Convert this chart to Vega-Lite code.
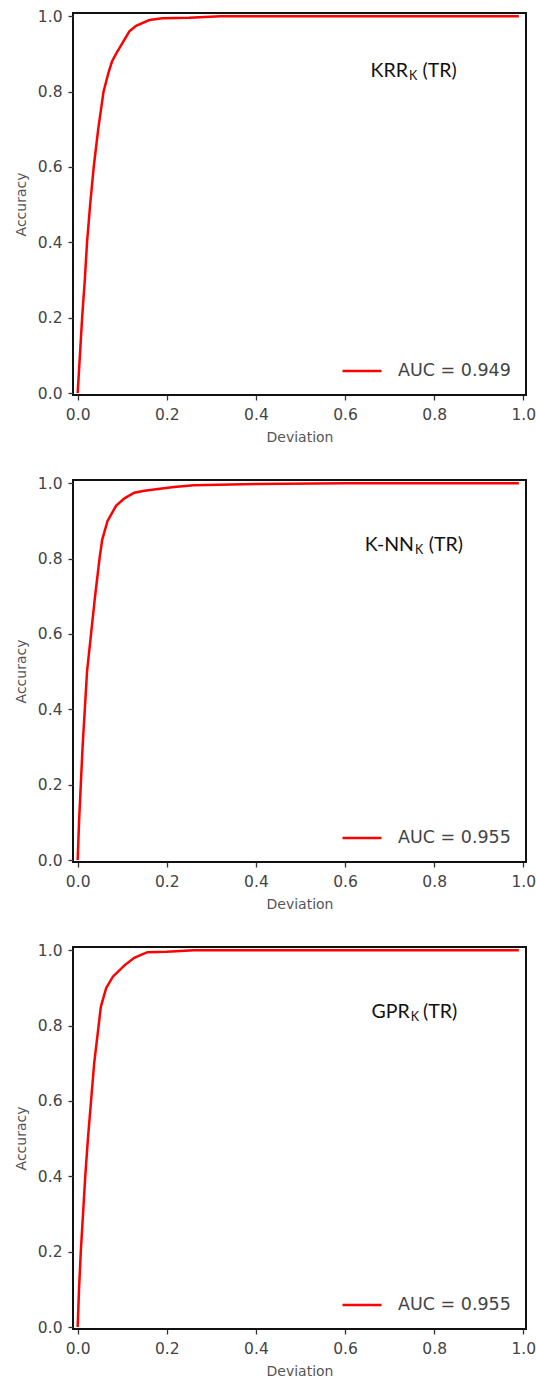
{
  "$schema": "https://vega.github.io/schema/vega-lite/v6.json",
  "background": "white",
  "padding": {"left": 13, "top": 8, "right": 5, "bottom": 5},
  "bounds": "flush",
  "spacing": 85,
  "datasets": {
    "curves": [
      {"panel": "KRR", "series": "AUC = 0.949", "dev": 0.0, "acc": 0.0},
      {"panel": "KRR", "series": "AUC = 0.949", "dev": 0.005, "acc": 0.1},
      {"panel": "KRR", "series": "AUC = 0.949", "dev": 0.010, "acc": 0.2},
      {"panel": "KRR", "series": "AUC = 0.949", "dev": 0.016, "acc": 0.3},
      {"panel": "KRR", "series": "AUC = 0.949", "dev": 0.021, "acc": 0.4},
      {"panel": "KRR", "series": "AUC = 0.949", "dev": 0.028, "acc": 0.5},
      {"panel": "KRR", "series": "AUC = 0.949", "dev": 0.036, "acc": 0.6},
      {"panel": "KRR", "series": "AUC = 0.949", "dev": 0.046, "acc": 0.7},
      {"panel": "KRR", "series": "AUC = 0.949", "dev": 0.058, "acc": 0.8},
      {"panel": "KRR", "series": "AUC = 0.949", "dev": 0.069, "acc": 0.85},
      {"panel": "KRR", "series": "AUC = 0.949", "dev": 0.077, "acc": 0.88},
      {"panel": "KRR", "series": "AUC = 0.949", "dev": 0.086, "acc": 0.9},
      {"panel": "KRR", "series": "AUC = 0.949", "dev": 0.101, "acc": 0.93},
      {"panel": "KRR", "series": "AUC = 0.949", "dev": 0.116, "acc": 0.96},
      {"panel": "KRR", "series": "AUC = 0.949", "dev": 0.131, "acc": 0.975},
      {"panel": "KRR", "series": "AUC = 0.949", "dev": 0.161, "acc": 0.99},
      {"panel": "KRR", "series": "AUC = 0.949", "dev": 0.19, "acc": 0.995},
      {"panel": "KRR", "series": "AUC = 0.949", "dev": 0.25, "acc": 0.996},
      {"panel": "KRR", "series": "AUC = 0.949", "dev": 0.32, "acc": 1.0},
      {"panel": "KRR", "series": "AUC = 0.949", "dev": 0.5, "acc": 1.0},
      {"panel": "KRR", "series": "AUC = 0.949", "dev": 0.99, "acc": 1.0},
      {"panel": "KNN", "series": "AUC = 0.955", "dev": 0.0, "acc": 0.0},
      {"panel": "KNN", "series": "AUC = 0.955", "dev": 0.003, "acc": 0.1},
      {"panel": "KNN", "series": "AUC = 0.955", "dev": 0.007, "acc": 0.2},
      {"panel": "KNN", "series": "AUC = 0.955", "dev": 0.011, "acc": 0.3},
      {"panel": "KNN", "series": "AUC = 0.955", "dev": 0.016, "acc": 0.4},
      {"panel": "KNN", "series": "AUC = 0.955", "dev": 0.021, "acc": 0.5},
      {"panel": "KNN", "series": "AUC = 0.955", "dev": 0.030, "acc": 0.6},
      {"panel": "KNN", "series": "AUC = 0.955", "dev": 0.039, "acc": 0.7},
      {"panel": "KNN", "series": "AUC = 0.955", "dev": 0.049, "acc": 0.8},
      {"panel": "KNN", "series": "AUC = 0.955", "dev": 0.055, "acc": 0.85},
      {"panel": "KNN", "series": "AUC = 0.955", "dev": 0.067, "acc": 0.9},
      {"panel": "KNN", "series": "AUC = 0.955", "dev": 0.086, "acc": 0.94},
      {"panel": "KNN", "series": "AUC = 0.955", "dev": 0.105, "acc": 0.96},
      {"panel": "KNN", "series": "AUC = 0.955", "dev": 0.127, "acc": 0.975},
      {"panel": "KNN", "series": "AUC = 0.955", "dev": 0.15, "acc": 0.98},
      {"panel": "KNN", "series": "AUC = 0.955", "dev": 0.18, "acc": 0.985},
      {"panel": "KNN", "series": "AUC = 0.955", "dev": 0.216, "acc": 0.99},
      {"panel": "KNN", "series": "AUC = 0.955", "dev": 0.26, "acc": 0.995},
      {"panel": "KNN", "series": "AUC = 0.955", "dev": 0.4, "acc": 0.998},
      {"panel": "KNN", "series": "AUC = 0.955", "dev": 0.6, "acc": 1.0},
      {"panel": "KNN", "series": "AUC = 0.955", "dev": 0.99, "acc": 1.0},
      {"panel": "GPR", "series": "AUC = 0.955", "dev": 0.0, "acc": 0.0},
      {"panel": "GPR", "series": "AUC = 0.955", "dev": 0.003, "acc": 0.1},
      {"panel": "GPR", "series": "AUC = 0.955", "dev": 0.007, "acc": 0.2},
      {"panel": "GPR", "series": "AUC = 0.955", "dev": 0.012, "acc": 0.3},
      {"panel": "GPR", "series": "AUC = 0.955", "dev": 0.017, "acc": 0.4},
      {"panel": "GPR", "series": "AUC = 0.955", "dev": 0.023, "acc": 0.5},
      {"panel": "GPR", "series": "AUC = 0.955", "dev": 0.030, "acc": 0.6},
      {"panel": "GPR", "series": "AUC = 0.955", "dev": 0.037, "acc": 0.7},
      {"panel": "GPR", "series": "AUC = 0.955", "dev": 0.047, "acc": 0.8},
      {"panel": "GPR", "series": "AUC = 0.955", "dev": 0.052, "acc": 0.85},
      {"panel": "GPR", "series": "AUC = 0.955", "dev": 0.064, "acc": 0.9},
      {"panel": "GPR", "series": "AUC = 0.955", "dev": 0.079, "acc": 0.93},
      {"panel": "GPR", "series": "AUC = 0.955", "dev": 0.105, "acc": 0.96},
      {"panel": "GPR", "series": "AUC = 0.955", "dev": 0.127, "acc": 0.98},
      {"panel": "GPR", "series": "AUC = 0.955", "dev": 0.146, "acc": 0.99},
      {"panel": "GPR", "series": "AUC = 0.955", "dev": 0.157, "acc": 0.995},
      {"panel": "GPR", "series": "AUC = 0.955", "dev": 0.2, "acc": 0.996},
      {"panel": "GPR", "series": "AUC = 0.955", "dev": 0.26, "acc": 1.0},
      {"panel": "GPR", "series": "AUC = 0.955", "dev": 0.99, "acc": 1.0}
    ],
    "names": [
      {"panel": "KRR", "part": "main", "text": "KRR", "dev": 0.741, "acc": 0.838},
      {"panel": "KRR", "part": "sub", "text": "K", "dev": 0.741, "acc": 0.838},
      {"panel": "KRR", "part": "tail", "text": "(TR)", "dev": 0.774, "acc": 0.838},
      {"panel": "KNN", "part": "main", "text": "K-NN", "dev": 0.7547, "acc": 0.819},
      {"panel": "KNN", "part": "sub", "text": "K", "dev": 0.7547, "acc": 0.819},
      {"panel": "KNN", "part": "tail", "text": "(TR)", "dev": 0.788, "acc": 0.819},
      {"panel": "GPR", "part": "main", "text": "GPR", "dev": 0.745, "acc": 0.821},
      {"panel": "GPR", "part": "sub", "text": "K", "dev": 0.745, "acc": 0.821},
      {"panel": "GPR", "part": "tail", "text": "(TR)", "dev": 0.775, "acc": 0.821}
    ]
  },
  "vconcat": [
    {
      "width": 453, "height": 382,
      "layer": [
        {
          "data": {"name": "curves"},
          "transform": [{"filter": "datum.panel === 'KRR'"}],
          "mark": {"type": "line", "strokeWidth": 2.5},
          "encoding": {
            "x": {"field": "dev", "type": "quantitative", "scale": {"domain": [-0.0105, 1.006], "nice": false, "zero": false}, "axis": {"title": "Deviation", "values": [0, 0.2, 0.4, 0.6, 0.8, 1.0], "format": ".1f"}},
            "y": {"field": "acc", "type": "quantitative", "scale": {"domain": [-0.0053, 1.0088], "nice": false, "zero": false}, "axis": {"title": "Accuracy", "values": [0, 0.2, 0.4, 0.6, 0.8, 1.0], "format": ".1f"}},
            "color": {"field": "series", "type": "nominal", "scale": {"range": ["#ff0000"]}, "legend": {"title": null}}
          }
        },
        {
          "data": {"name": "names"},
          "transform": [{"filter": "datum.panel === 'KRR' && datum.part === 'main'"}],
          "mark": {"type": "text", "align": "right", "baseline": "alphabetic", "font": "Lato", "fontSize": 19.5, "color": "#111"},
          "encoding": {"x": {"field": "dev", "type": "quantitative"}, "y": {"field": "acc", "type": "quantitative"}, "text": {"field": "text"}}
        },
        {
          "data": {"name": "names"},
          "transform": [{"filter": "datum.panel === 'KRR' && datum.part === 'tail'"}],
          "mark": {"type": "text", "align": "left", "baseline": "alphabetic", "font": "Lato", "fontSize": 19.5, "color": "#111"},
          "encoding": {"x": {"field": "dev", "type": "quantitative"}, "y": {"field": "acc", "type": "quantitative"}, "text": {"field": "text"}}
        },
        {
          "data": {"name": "names"},
          "transform": [{"filter": "datum.panel === 'KRR' && datum.part === 'sub'"}],
          "mark": {"type": "text", "align": "left", "baseline": "alphabetic", "font": "Lato", "fontSize": 12.5, "dy": 3, "dx": 1, "color": "#111"},
          "encoding": {"x": {"field": "dev", "type": "quantitative"}, "y": {"field": "acc", "type": "quantitative"}, "text": {"field": "text"}}
        }
      ]
    },
    {
      "width": 453, "height": 382,
      "layer": [
        {
          "data": {"name": "curves"},
          "transform": [{"filter": "datum.panel === 'KNN'"}],
          "mark": {"type": "line", "strokeWidth": 2.5},
          "encoding": {
            "x": {"field": "dev", "type": "quantitative", "scale": {"domain": [-0.0105, 1.006], "nice": false, "zero": false}, "axis": {"title": "Deviation", "values": [0, 0.2, 0.4, 0.6, 0.8, 1.0], "format": ".1f"}},
            "y": {"field": "acc", "type": "quantitative", "scale": {"domain": [-0.0053, 1.0088], "nice": false, "zero": false}, "axis": {"title": "Accuracy", "values": [0, 0.2, 0.4, 0.6, 0.8, 1.0], "format": ".1f"}},
            "color": {"field": "series", "type": "nominal", "scale": {"range": ["#ff0000"]}, "legend": {"title": null}}
          }
        },
        {
          "data": {"name": "names"},
          "transform": [{"filter": "datum.panel === 'KNN' && datum.part === 'main'"}],
          "mark": {"type": "text", "align": "right", "baseline": "alphabetic", "font": "Lato", "fontSize": 19.5, "color": "#111"},
          "encoding": {"x": {"field": "dev", "type": "quantitative"}, "y": {"field": "acc", "type": "quantitative"}, "text": {"field": "text"}}
        },
        {
          "data": {"name": "names"},
          "transform": [{"filter": "datum.panel === 'KNN' && datum.part === 'tail'"}],
          "mark": {"type": "text", "align": "left", "baseline": "alphabetic", "font": "Lato", "fontSize": 19.5, "color": "#111"},
          "encoding": {"x": {"field": "dev", "type": "quantitative"}, "y": {"field": "acc", "type": "quantitative"}, "text": {"field": "text"}}
        },
        {
          "data": {"name": "names"},
          "transform": [{"filter": "datum.panel === 'KNN' && datum.part === 'sub'"}],
          "mark": {"type": "text", "align": "left", "baseline": "alphabetic", "font": "Lato", "fontSize": 12.5, "dy": 3, "dx": 1, "color": "#111"},
          "encoding": {"x": {"field": "dev", "type": "quantitative"}, "y": {"field": "acc", "type": "quantitative"}, "text": {"field": "text"}}
        }
      ]
    },
    {
      "width": 453, "height": 382,
      "layer": [
        {
          "data": {"name": "curves"},
          "transform": [{"filter": "datum.panel === 'GPR'"}],
          "mark": {"type": "line", "strokeWidth": 2.5},
          "encoding": {
            "x": {"field": "dev", "type": "quantitative", "scale": {"domain": [-0.0105, 1.006], "nice": false, "zero": false}, "axis": {"title": "Deviation", "values": [0, 0.2, 0.4, 0.6, 0.8, 1.0], "format": ".1f"}},
            "y": {"field": "acc", "type": "quantitative", "scale": {"domain": [-0.0053, 1.0088], "nice": false, "zero": false}, "axis": {"title": "Accuracy", "values": [0, 0.2, 0.4, 0.6, 0.8, 1.0], "format": ".1f"}},
            "color": {"field": "series", "type": "nominal", "scale": {"range": ["#ff0000"]}, "legend": {"title": null}}
          }
        },
        {
          "data": {"name": "names"},
          "transform": [{"filter": "datum.panel === 'GPR' && datum.part === 'main'"}],
          "mark": {"type": "text", "align": "right", "baseline": "alphabetic", "font": "Lato", "fontSize": 19.5, "color": "#111"},
          "encoding": {"x": {"field": "dev", "type": "quantitative"}, "y": {"field": "acc", "type": "quantitative"}, "text": {"field": "text"}}
        },
        {
          "data": {"name": "names"},
          "transform": [{"filter": "datum.panel === 'GPR' && datum.part === 'tail'"}],
          "mark": {"type": "text", "align": "left", "baseline": "alphabetic", "font": "Lato", "fontSize": 19.5, "color": "#111"},
          "encoding": {"x": {"field": "dev", "type": "quantitative"}, "y": {"field": "acc", "type": "quantitative"}, "text": {"field": "text"}}
        },
        {
          "data": {"name": "names"},
          "transform": [{"filter": "datum.panel === 'GPR' && datum.part === 'sub'"}],
          "mark": {"type": "text", "align": "left", "baseline": "alphabetic", "font": "Lato", "fontSize": 12.5, "dy": 3, "dx": 1, "color": "#111"},
          "encoding": {"x": {"field": "dev", "type": "quantitative"}, "y": {"field": "acc", "type": "quantitative"}, "text": {"field": "text"}}
        }
      ]
    }
  ],
  "resolve": {"scale": {"color": "independent", "x": "independent", "y": "independent"}, "legend": {"color": "independent"}},
  "config": {
    "view": {"stroke": "#111", "strokeWidth": 2},
    "axis": {"domain": false, "grid": false, "tickColor": "#333", "tickSize": 5, "tickWidth": 1.3, "labelFont": "DejaVu Sans", "labelFontSize": 15.5, "labelColor": "#444", "labelPadding": 6, "titleFont": "DejaVu Sans", "titleFontSize": 14, "titleFontWeight": "normal", "titleColor": "#555", "labelFlush": false},
    "axisX": {"labelPadding": 7, "titlePadding": 8},
    "axisY": {"titlePadding": 9},
    "legend": {"orient": "none", "legendX": 268, "legendY": 337, "padding": 0, "symbolType": "stroke", "symbolSize": 1521, "symbolStrokeWidth": 2.5, "labelFont": "DejaVu Sans", "labelFontSize": 17.5, "labelColor": "#444", "labelOffset": 15, "symbolOffset": 0}
  }
}
